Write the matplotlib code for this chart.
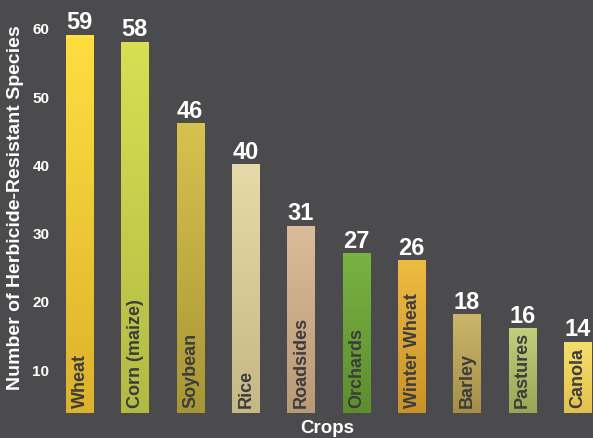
import numpy as np
import matplotlib
matplotlib.use("Agg")
from matplotlib import pyplot as plt
from matplotlib.colors import LinearSegmentedColormap

crops = ["Wheat", "Corn (maize)", "Soybean", "Rice", "Roadsides", "Orchards",
         "Winter Wheat", "Barley", "Pastures", "Canola"]
species = [59, 58, 46, 40, 31, 27, 26, 18, 16, 14]
top_colors = ["#ffde40", "#d6e052", "#d6c24e", "#e6daa8", "#dabb9a", "#7ab242",
              "#eebb42", "#cab66a", "#c2ce7a", "#f6de6a"]
bottom_colors = ["#dcb22c", "#b2ba44", "#a89636", "#c6b886", "#b89a76", "#5c8e2e",
                 "#c8922a", "#a68e48", "#98a656", "#e2c04e"]

plt.rcParams['font.family'] = ['Liberation Sans', 'DejaVu Sans']
bg = "#4b4b4d"

fig = plt.figure(figsize=(5.93, 4.39), dpi=100, facecolor=bg)
ax = fig.add_axes([55 / 593, 25 / 439, 538 / 593, 414 / 439], facecolor=bg)

x = np.arange(len(crops))
w = 0.49
y0 = 3.55
bars = ax.bar(x, np.array(species) - y0, bottom=y0, width=w, color="none", linewidth=0)

# vertical gradient inside each bar
for b, v, c1, c2 in zip(bars, species, top_colors, bottom_colors):
    cmap = LinearSegmentedColormap.from_list("g", [c2, c1])
    grad = np.linspace(0, 1, 100).reshape(-1, 1)
    im = ax.imshow(grad, cmap=cmap, origin="lower", aspect="auto",
                   extent=(b.get_x(), b.get_x() + w, y0, v), zorder=2)
    im.set_clip_path(b)

for xi, v, name in zip(x, species, crops):
    ax.text(xi, v + 0.2, str(v), ha="center", va="bottom", color="white",
            fontsize=17, fontweight="bold", zorder=3)
    ax.text(xi + 0.01, y0 + 0.9, name, rotation=90, ha="center", va="bottom",
            color="#3c3c3c", fontsize=13, fontweight="bold", zorder=3)

ax.set_xlim(-0.443, 9.28)
ax.set_ylim(y0, 64.25)
ax.set_yticks([10, 20, 30, 40, 50, 60])
ax.set_xticks([])
ax.tick_params(axis="y", length=0, colors="white", labelsize=11, pad=4)
for lab in ax.get_yticklabels():
    lab.set_fontweight("bold")
for s in ax.spines.values():
    s.set_visible(False)

fig.text(16 / 593, 1 - 208 / 439, "Number of Herbicide-Resistant Species", rotation=90,
         ha="center", va="center", color="white", fontsize=14, fontweight="bold")
fig.text(327 / 593, 1 - 437 / 439, "Crops", ha="center", va="bottom",
         color="white", fontsize=13.5, fontweight="bold")

fig.savefig("out.png", dpi=100, facecolor=bg)
